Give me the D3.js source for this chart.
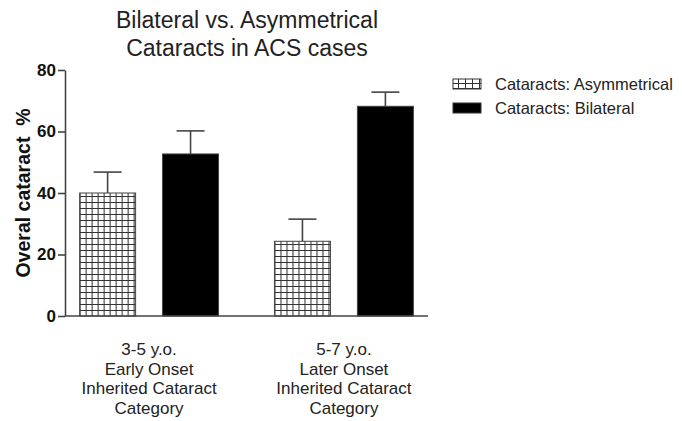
<!DOCTYPE html>
<html>
<head>
<meta charset="utf-8">
<script src="https://cdn.jsdelivr.net/npm/d3@7"></script>
<style>
  html, body { margin: 0; padding: 0; background: #fff; }
  svg { display: block; font-family: "Liberation Sans", Arial, sans-serif; }
</style>
</head>
<body>
<svg id="chart" width="682" height="421"></svg>
<script>
// Groups along the x axis (multi-line labels)
const categories = ["early", "later"];
const categoryLabels = [
  ["3-5 y.o.", "Early Onset", "Inherited Cataract", "Category"],
  ["5-7 y.o.", "Later Onset", "Inherited Cataract", "Category"]
];
// Series
const seriesKeys = ["asym", "bilat"];
const seriesNames = ["Cataracts: Asymmetrical", "Cataracts: Bilateral"];
const meanValues = {
  asym: [40.0, 24.3],
  bilat: [52.7, 68.2]
};
const errorValues = {
  asym: [6.8, 7.2],
  bilat: [7.5, 4.6]
};
const yTicks = [0, 20, 40, 60, 80];
const titleLines = ["Bilateral vs. Asymmetrical", "Cataracts in ACS cases"];
const yAxisTitle = "Overal cataract  %";

const svg = d3.select("#chart");

// Plot frame
const plotLeft = 65, plotRight = 428, plotTop = 70, plotBottom = 316;

const y = d3.scaleLinear().domain([0, 80]).range([plotBottom, plotTop]);
const x0 = d3.scaleBand().domain(categories).range([plotLeft, plotRight])
  .paddingInner(0.287).paddingOuter(0.075);
const x1 = d3.scaleBand().domain(seriesKeys).range([0, x0.bandwidth()]).paddingInner(0.325);

// Grid hatch pattern for the asymmetrical series
const defs = svg.append("defs");
const pat = defs.append("pattern")
  .attr("id", "grid")
  .attr("patternUnits", "userSpaceOnUse")
  .attr("width", 6).attr("height", 6)
  .attr("x", 0).attr("y", plotBottom);
pat.append("rect").attr("width", 6).attr("height", 6).attr("fill", "#fff");
pat.append("path").attr("d", "M0,0.5H6M0.5,0V6")
  .attr("stroke", "#333").attr("stroke-width", 1.1).attr("fill", "none");

const lp = defs.append("pattern")
  .attr("id", "legendgrid")
  .attr("patternUnits", "userSpaceOnUse")
  .attr("width", 7).attr("height", 5)
  .attr("x", 453).attr("y", 79);
lp.append("rect").attr("width", 7).attr("height", 5).attr("fill", "#fff");
lp.append("path").attr("d", "M0,0.5H7M0.5,0V5")
  .attr("stroke", "#333").attr("stroke-width", 1).attr("fill", "none");

const fills = { asym: "url(#grid)", bilat: "#000" };

// Title
svg.append("g").selectAll("text").data(titleLines).join("text")
  .attr("x", 247).attr("y", (d, i) => 28 + i * 28)
  .attr("text-anchor", "middle")
  .attr("font-size", 23).attr("fill", "#222")
  .text(d => d);

// Bars and error bars
const groups = svg.append("g").selectAll("g").data(categories).join("g")
  .attr("transform", d => `translate(${x0(d)},0)`);

seriesKeys.forEach(k => {
  groups.append("rect")
    .attr("x", x1(k))
    .attr("y", (d, i) => y(meanValues[k][i]))
    .attr("width", x1.bandwidth())
    .attr("height", (d, i) => plotBottom - y(meanValues[k][i]))
    .attr("fill", fills[k])
    .attr("stroke", "#444").attr("stroke-width", 1);

  const cx = x1(k) + x1.bandwidth() / 2;
  const capHalf = 14;
  groups.append("line")
    .attr("x1", cx).attr("x2", cx)
    .attr("y1", (d, i) => y(meanValues[k][i]))
    .attr("y2", (d, i) => y(meanValues[k][i] + errorValues[k][i]))
    .attr("stroke", "#444").attr("stroke-width", 1.6);
  groups.append("line")
    .attr("x1", cx - capHalf).attr("x2", cx + capHalf)
    .attr("y1", (d, i) => y(meanValues[k][i] + errorValues[k][i]))
    .attr("y2", (d, i) => y(meanValues[k][i] + errorValues[k][i]))
    .attr("stroke", "#444").attr("stroke-width", 1.6);
});

// Y axis
const yAxis = svg.append("g")
  .attr("transform", `translate(${plotLeft},0)`)
  .call(d3.axisLeft(y).tickValues(yTicks).tickSize(7).tickSizeOuter(0));
yAxis.select(".domain").attr("stroke", "#444").attr("stroke-width", 1.6);
yAxis.selectAll(".tick line").attr("stroke", "#444").attr("stroke-width", 1.6);
yAxis.selectAll(".tick text")
  .attr("font-family", "'Liberation Sans', Arial, sans-serif")
  .attr("font-size", 17).attr("font-weight", "bold").attr("fill", "#111")
  .attr("x", -9);

// X axis line
svg.append("line")
  .attr("x1", plotLeft).attr("x2", plotRight)
  .attr("y1", plotBottom).attr("y2", plotBottom)
  .attr("stroke", "#444").attr("stroke-width", 1.6);

// Category labels
svg.append("g").selectAll("text").data(categories).join("text")
  .attr("text-anchor", "middle")
  .attr("font-size", 17).attr("fill", "#222")
  .attr("transform", d => `translate(${x0(d) + x0.bandwidth() / 2},0)`)
  .each(function(d, i) {
    d3.select(this).selectAll("tspan").data(categoryLabels[i]).join("tspan")
      .attr("x", 0).attr("y", (t, j) => 355 + j * 19.5)
      .text(t => t);
  });

// Y axis title
svg.append("text")
  .attr("transform", `translate(30,${(plotTop + plotBottom) / 2}) rotate(-90)`)
  .attr("text-anchor", "middle")
  .attr("font-size", 19.5).attr("font-weight", "bold").attr("fill", "#111")
  .attr("xml:space", "preserve")
  .text(yAxisTitle);

// Legend
const legend = svg.append("g").selectAll("g").data(seriesKeys).join("g")
  .attr("transform", (d, i) => `translate(453,${79 + i * 24})`);
legend.append("rect")
  .attr("width", 28).attr("height", 10)
  .attr("fill", d => d === "asym" ? "url(#legendgrid)" : "#000")
  .attr("stroke", "#333").attr("stroke-width", 1);
legend.append("text")
  .attr("x", 42).attr("y", 11)
  .attr("font-size", 16.5).attr("fill", "#222")
  .text((d, i) => seriesNames[i]);
</script>
</body>
</html>
